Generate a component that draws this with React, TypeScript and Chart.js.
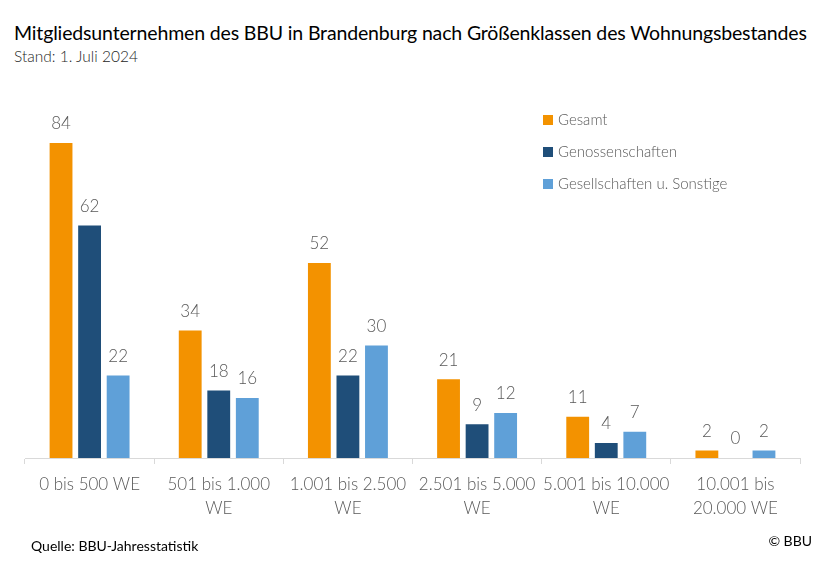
import React, { useEffect, useRef } from "react";
import { Chart, registerables } from "chart.js";

Chart.register(...registerables);

const categories: string[][] = [
  ["0 bis 500 WE"],
  ["501 bis 1.000", "WE"],
  ["1.001 bis 2.500", "WE"],
  ["2.501 bis 5.000", "WE"],
  ["5.001 bis 10.000", "WE"],
  ["10.001 bis", "20.000 WE"],
];
const seriesNames = ["Gesamt", "Genossenschaften", "Gesellschaften u. Sonstige"];
const gesamt = [84, 34, 52, 21, 11, 2];
const genossenschaften = [62, 18, 22, 9, 4, 0];
const gesellschaften = [22, 16, 30, 12, 7, 2];
const colors = ["#F39200", "#1F4E79", "#5FA0D8"];

const FONT = "Lato, 'Open Sans', sans-serif";
const TEXT_GRAY = "#595959";

const labelsPlugin = {
  id: "valueLabels",
  afterDatasetsDraw(chart: any) {
    const ctx = chart.ctx;
    ctx.save();
    ctx.font = `300 17px ${FONT}`;
    ctx.fillStyle = TEXT_GRAY;
    ctx.textAlign = "center";
    ctx.textBaseline = "middle";
    chart.data.datasets.forEach((ds: any, i: number) => {
      const meta = chart.getDatasetMeta(i);
      meta.data.forEach((el: any, j: number) => {
        ctx.fillText(String(ds.data[j]), el.x, el.y - 19);
      });
    });
    ctx.restore();
  },
};

const legendPlugin = {
  id: "customLegend",
  afterDraw(chart: any) {
    const ctx = chart.ctx;
    ctx.save();
    ctx.font = `300 15px ${FONT}`;
    ctx.textBaseline = "middle";
    ctx.textAlign = "left";
    const x0 = 543;
    const ys = [120, 152, 184];
    chart.data.datasets.forEach((ds: any, i: number) => {
      ctx.fillStyle = ds.backgroundColor;
      ctx.fillRect(x0, ys[i] - 5, 10, 10);
      ctx.fillStyle = TEXT_GRAY;
      ctx.fillText(ds.label, x0 + 15, ys[i]);
    });
    ctx.restore();
  },
};

export default function App() {
  const ref = useRef<HTMLCanvasElement | null>(null);
  useEffect(() => {
    if (!ref.current) return;
    const chart = new Chart(ref.current, {
      type: "bar",
      data: {
        labels: categories,
        datasets: [gesamt, genossenschaften, gesellschaften].map((d, i) => ({
          label: seriesNames[i],
          data: d,
          backgroundColor: colors[i],
          categoryPercentage: 0.663,
          barPercentage: 0.8,
        })),
      },
      options: {
        animation: false,
        responsive: false,
        maintainAspectRatio: false,
        layout: { padding: { left: 25, right: 26, top: 83, bottom: 0 } },
        plugins: {
          legend: { display: false },
          tooltip: { enabled: false },
          title: { display: false },
        },
        scales: {
          y: { display: false, min: 0, max: 100 },
          x: {
            afterFit(scale: any) {
              scale.height = 110;
            },
            border: { display: true, color: "#D9D9D9", width: 1 },
            grid: {
              display: true,
              drawOnChartArea: false,
              drawTicks: true,
              tickLength: 6,
              color: "#D9D9D9",
              offset: true,
            },
            ticks: {
              color: TEXT_GRAY,
              font: { family: FONT, size: 17, weight: 300, lineHeight: 1.45 },
              padding: 8,
              maxRotation: 0,
              autoSkip: false,
            },
          },
        },
      },
      plugins: [labelsPlugin, legendPlugin],
    });
    return () => chart.destroy();
  }, []);

  return (
    <div
      style={{
        position: "absolute",
        left: 0,
        top: 0,
        width: 826,
        height: 568,
        background: "#fff",
        fontFamily: FONT,
      }}
    >
      <div
        style={{
          position: "absolute",
          left: 14,
          top: 20,
          fontSize: 19.5,
          letterSpacing: -0.15,
          color: "#000",
          whiteSpace: "nowrap",
          lineHeight: "26px",
        }}
      >
        Mitgliedsunternehmen des BBU in Brandenburg nach Größenklassen des Wohnungsbestandes
      </div>
      <div
        style={{
          position: "absolute",
          left: 14,
          top: 46,
          fontSize: 15.5,
          fontWeight: 300,
          color: "#262626",
          whiteSpace: "nowrap",
          lineHeight: "20px",
        }}
      >
        Stand: 1. Juli 2024
      </div>
      <canvas
        ref={ref}
        width={826}
        height={568}
        style={{ position: "absolute", left: 0, top: 0, width: 826, height: 568 }}
      />
      <div
        style={{
          position: "absolute",
          left: 31,
          top: 536,
          fontSize: 14,
          color: "#000",
          whiteSpace: "nowrap",
          lineHeight: "20px",
        }}
      >
        Quelle: BBU-Jahresstatistik
      </div>
      <div
        style={{
          position: "absolute",
          right: 14,
          top: 531,
          fontSize: 14,
          color: "#000",
          whiteSpace: "nowrap",
          lineHeight: "20px",
        }}
      >
        © BBU
      </div>
    </div>
  );
}
